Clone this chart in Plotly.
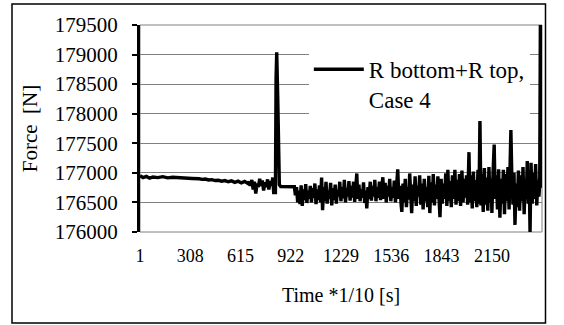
import plotly.graph_objects as go

# ---- data (time index, force in N) ----
time_a = [1, 20, 40, 60, 80, 110, 140, 170, 200, 240, 280, 320, 362,
          380, 400, 420, 440, 460, 480, 500, 520, 540, 560, 580, 600, 620, 640, 660, 668]
force_a = [176950, 176920, 176940, 176910, 176930, 176920, 176935, 176915, 176925, 176915, 176910, 176905, 176900,
           176890, 176895, 176880, 176885, 176870, 176875, 176860, 176870, 176850, 176865, 176840, 176860, 176830, 176855, 176820, 176850]

time_b = [675, 684, 692, 700, 708, 716, 724, 732, 740, 748, 756, 764, 772, 780, 788, 796, 804, 812, 818, 824, 828,
          832, 836, 842, 847, 852, 860, 900, 944]
force_b = [176780, 176880, 176720, 176850, 176650, 176820, 176760, 176900, 176780, 176870, 176700, 176840, 176760, 176890, 176720, 176860, 176780, 176920, 176640, 176800, 176640,
           178600, 179040, 178300, 177300, 176800, 176770, 176765, 176765]

time_c = [950, 957, 964, 971, 978, 985, 992, 999, 1006, 1013, 1020, 1027, 1034, 1041, 1048, 1055, 1062, 1069, 1076, 1083,
          1090, 1097, 1104, 1110, 1116, 1123, 1130, 1137, 1144, 1151, 1158, 1165, 1172, 1179, 1186, 1193, 1200, 1207, 1214, 1221,
          1228, 1235, 1242, 1249, 1256, 1263, 1270, 1277, 1284, 1291, 1298, 1305, 1312, 1319, 1325, 1331, 1338, 1345, 1352, 1359,
          1366, 1373, 1380, 1386, 1393, 1400, 1407, 1414, 1421, 1428, 1435, 1442, 1449, 1456, 1463, 1470, 1477, 1484, 1491, 1498,
          1505, 1512, 1519, 1526, 1533, 1540, 1547, 1554, 1561, 1568, 1575, 1582, 1589]
force_c = [176620, 176760, 176500, 176700, 176470, 176790, 176440, 176720, 176540, 176810, 176490, 176700, 176560, 176780, 176500, 176740, 176580, 176820, 176470, 176720,
           176540, 176790, 176500, 176920, 176370, 176760, 176520, 176850, 176480, 176700, 176560, 176830, 176450, 176740, 176540, 176800, 176480, 176710, 176600, 176850,
           176520, 176760, 176570, 176880, 176500, 176740, 176600, 176860, 176530, 176780, 176580, 176850, 176510, 176760, 176990, 176560, 176800, 176520, 176720, 176580,
           176840, 176490, 176700, 176400, 176760, 176560, 176850, 176530, 176780, 176600, 176880, 176520, 176760, 176580, 176850, 176540, 176800, 176925, 176560, 176830,
           176500, 176780, 176600, 176900, 176520, 176760, 176580, 176870, 176500, 176800, 177060, 176560, 176780]

time_d = [1596, 1600, 1607, 1614, 1621, 1628, 1635, 1642, 1648, 1655, 1660, 1667, 1674, 1681, 1688, 1695, 1702, 1709, 1716, 1723,
          1730, 1737, 1744, 1751, 1758, 1765, 1771, 1778, 1785, 1792, 1799, 1806, 1813, 1820, 1827, 1833, 1840, 1847, 1854, 1861,
          1868, 1875, 1881, 1888, 1895, 1902, 1909, 1916, 1924, 1931, 1938, 1945, 1952, 1959, 1967, 1974, 1981, 1988, 1995, 2002]
force_d = [176450, 176340, 176820, 176500, 176900, 176420, 176760, 176550, 176990, 176480, 176320, 176800, 176520, 176940, 176440, 176780, 176600, 176960, 176460, 176820,
           176380, 176900, 176520, 176760, 176420, 176950, 176320, 176840, 176500, 176980, 176450, 176800, 176560, 176940, 176400, 176250, 176900, 176480, 176820, 176560,
           176990, 176440, 177050, 176520, 176860, 176420, 176960, 176560, 177050, 176460, 176880, 176520, 176980, 176440, 177040, 176500, 176900, 176580, 176960, 176460]

time_e = [2010, 2016, 2023, 2030, 2037, 2044, 2051, 2058, 2065, 2071, 2077, 2083, 2090, 2097, 2104, 2111, 2118, 2125, 2132, 2139,
          2145, 2150, 2157, 2164, 2170, 2177, 2184, 2191, 2199, 2206, 2213, 2220, 2227, 2234, 2241, 2248, 2255, 2262, 2266, 2272,
          2279, 2285, 2291, 2298, 2305, 2312, 2319, 2326, 2333, 2340, 2347, 2354, 2360, 2366, 2372, 2378, 2383, 2389, 2396, 2403,
          2410, 2417, 2424, 2431, 2437, 2442, 2446, 2451, 2456]
force_e = [177350, 176500, 176960, 176400, 177020, 176520, 176880, 176420, 177050, 176480, 177900, 176450, 176980, 176340, 177080, 176460, 176920, 176360, 177100, 176500,
           176900, 176320, 177000, 177480, 176560, 176960, 176380, 177060, 176240, 176900, 176480, 177050, 176300, 176980, 176520, 177100, 176380, 177500, 177725, 176900,
           176460, 177000, 176120, 176820, 176420, 177040, 176360, 176960, 176520, 177100, 176300, 176900, 176560, 177200, 176480, 176900, 176000, 177170, 176480, 177000,
           176560, 177150, 176450, 176880, 176600, 176800, 179500, 177300, 176750]

time_idx = time_a + time_b + time_c + time_d + time_e
force = force_a + force_b + force_c + force_d + force_e

x_ticks = [1, 308, 615, 922, 1229, 1536, 1843, 2150]
y_ticks = [176000, 176500, 177000, 177500, 178000, 178500, 179000, 179500]

FONT = "Times New Roman, Liberation Serif, serif"

fig = go.Figure()
fig.add_trace(go.Scatter(
    x=time_idx, y=force, mode="lines",
    line=dict(color="black", width=3.4),
    name="R bottom+R top,<br>Case 4",
    showlegend=True,
))

fig.update_layout(
    width=564, height=325,
    margin=dict(l=140, r=22, t=25, b=93),
    paper_bgcolor="white", plot_bgcolor="white",
    font=dict(family=FONT, color="black"),
    showlegend=True,
    legend=dict(
        x=0.42, y=0.89, xanchor="left", yanchor="top",
        bgcolor="white", borderwidth=0,
        font=dict(family=FONT, size=23, color="black"),
        valign="top", itemwidth=50,
    ),
    xaxis=dict(
        range=[1, 2456], tickvals=x_ticks, ticktext=[str(v) for v in x_ticks],
        showgrid=False, zeroline=False, showline=False, ticks="",
        tickfont=dict(family=FONT, size=18, color="black"),
        ticklabelstandoff=11,
        title=dict(text="Time *1/10 [s]", font=dict(family=FONT, size=20, color="black"), standoff=22),
    ),
    yaxis=dict(
        range=[176000, 179500], tickvals=y_ticks, tickformat="d",
        showgrid=True, gridcolor="#808080", gridwidth=1, zeroline=False,
        showline=True, linecolor="black", linewidth=3,
        ticks="outside", ticklen=5, tickwidth=2, tickcolor="black",
        tickfont=dict(family=FONT, size=21, color="black"),
        ticklabelstandoff=10,
        title=dict(text="Force  [N]", font=dict(family=FONT, size=21, color="black"), standoff=12),
    ),
    shapes=[
        dict(type="rect", xref="paper", yref="paper", x0=0, x1=1, y0=0, y1=1,
             line=dict(color="#808080", width=1), layer="below"),
        dict(type="rect", xref="paper", yref="paper", x0=-0.3184, x1=1.0087, y0=-0.4396, y1=1.1014,
             line=dict(color="black", width=1.5), layer="above"),
    ],
)

fig.write_html("out.html")
